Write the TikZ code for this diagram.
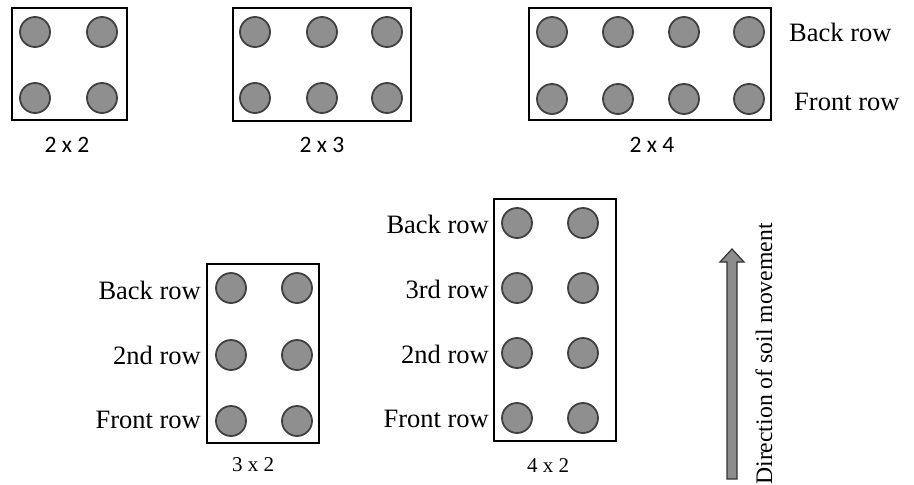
\documentclass[tikz,border=0pt]{standalone}
\usepackage{fontspec}
\setmainfont{Liberation Serif}
\newfontfamily\labelsans{Carlito}
\begin{document}
\begin{tikzpicture}[x=1pt,y=-1pt,
  pile/.style={circle,draw=black!75,line width=1.8pt,fill=black!44,inner sep=0pt,minimum size=30pt},
  rowlbl/.style={font=\fontsize{26.5}{28}\selectfont,inner sep=0pt},
  sizelbl/.style={font=\labelsans\fontsize{23.5}{25}\selectfont,inner sep=0pt},
  sizelblserif/.style={font=\fontsize{21}{23}\selectfont,inner sep=0pt},
  frame/.style={line width=2.6pt}]
\useasboundingbox (0,0) rectangle (914,485);

% --- 2 x 2 layout
\draw[frame] (12,8) rectangle (127,120);
\foreach \x/\i in {35/1,102/2}{
  \node[pile] (a-b\i) at (\x,32) {};
  \node[pile] (a-f\i) at (\x,98) {};
}
\node[sizelbl] (a-lbl) at (67,145) {2 x 2};

% --- 2 x 3 layout
\draw[frame] (233,8) rectangle (411,121);
\foreach \x/\i in {255/1,322/2,387/3}{
  \node[pile] (b-b\i) at (\x,32) {};
  \node[pile] (b-f\i) at (\x,98) {};
}
\node[sizelbl] (b-lbl) at (322,145) {2 x 3};

% --- 2 x 4 layout
\draw[frame] (529,8) rectangle (771,120);
\foreach \x/\i in {552/1,618/2,684/3,749/4}{
  \node[pile] (c-b\i) at (\x,32) {};
  \node[pile] (c-f\i) at (\x,99) {};
}
\node[rowlbl,anchor=west] (c-back) at (789,32) {Back row};
\node[rowlbl,anchor=west] (c-front) at (794,102) {Front row};
\node[sizelbl] (c-lbl) at (652,145) {2 x 4};

% --- 3 x 2 layout
\draw[frame] (207,264) rectangle (319,443);
\foreach \y/\i in {288/1,355/2,421/3}{
  \node[pile] (d-l\i) at (231,\y) {};
  \node[pile] (d-r\i) at (297,\y) {};
}
\node[rowlbl,anchor=east] (d-back) at (201,290) {Back row};
\node[rowlbl,anchor=east] (d-second) at (201,355) {2nd row};
\node[rowlbl,anchor=east] (d-front) at (201,420) {Front row};
\node[sizelblserif] (d-lbl) at (253,465) {3 x 2};

% --- 4 x 2 layout
\draw[frame] (494,199) rectangle (616,441);
\foreach \y/\i in {223/1,288/2,353/3,418/4}{
  \node[pile] (e-l\i) at (517,\y) {};
  \node[pile] (e-r\i) at (583,\y) {};
}
\node[rowlbl,anchor=east] (e-back) at (489,224) {Back row};
\node[rowlbl,anchor=east] (e-third) at (489,289) {3rd row};
\node[rowlbl,anchor=east] (e-second) at (489,354) {2nd row};
\node[rowlbl,anchor=east] (e-front) at (489,419) {Front row};
\node[sizelblserif] (e-lbl) at (548,466) {4 x 2};

% --- direction arrow
\draw[fill=black!45,draw=black!80,line width=1.2pt,line join=miter]
  (727,479) -- (737,479) -- (737,262) -- (744,262) -- (732,249)
  -- (720,262) -- (727,262) -- cycle;
\node[rotate=90,inner sep=0pt,font=\fontsize{23.7}{25}\selectfont] (dir) at (764,354) {Direction of soil movement};
\end{tikzpicture}
\end{document}
